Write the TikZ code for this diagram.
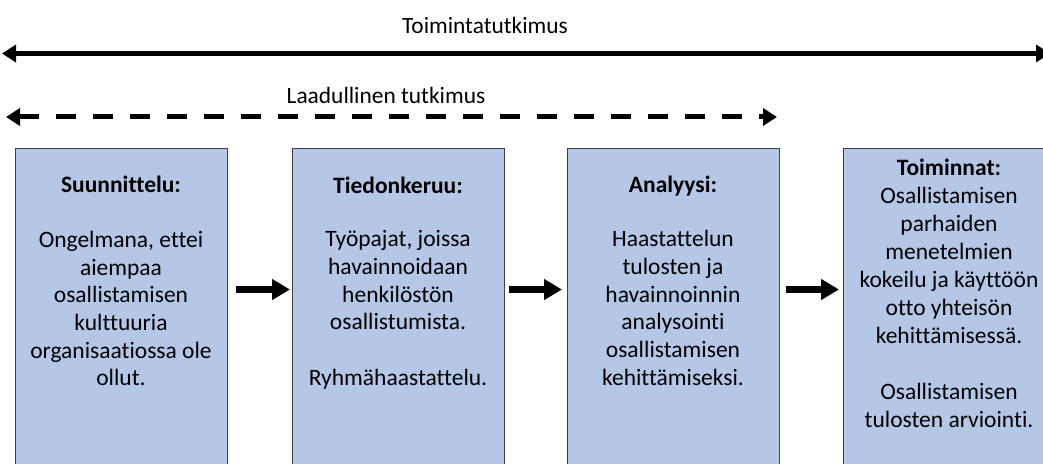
\documentclass[tikz,border=0pt]{standalone}
\usepackage{fontspec}
\setmainfont{Carlito}[Ligatures=NoCommon]
\usepackage{tikz}
\usetikzlibrary{arrows.meta,positioning}

\definecolor{boxblue}{HTML}{B4C7E7}
\definecolor{boxline}{HTML}{404040}

\begin{document}
\begin{tikzpicture}[x=1pt, y=1pt,
  phasebox/.style={rectangle, draw=boxline, fill=boxblue, line width=0.8pt, minimum width=212pt, minimum height=340pt, anchor=north west, inner sep=0pt},
  phasetext/.style={align=center, anchor=north, inner sep=0pt, font=\fontsize{23.5}{27.7}\selectfont},
  spanlabel/.style={inner sep=0pt, font=\fontsize{23.4}{26}\selectfont},
  spanline/.style={line width=5pt, {Triangle[length=14pt,width=17pt]}-{Triangle[length=14pt,width=17pt]}},
  flow/.style={line width=6.5pt, -{Triangle[length=18pt,width=20pt]}}]
\useasboundingbox (0,0) rectangle (1043,463);
\clip (0,0) rectangle (1043,463);
%spans on top
\coordinate (tl) at (2,409.5);
\coordinate (tr) at (1050,409.5);
\draw[spanline] (tl) -- (tr);
\node[spanlabel] at (485,438) (toimlab) {Toimintatutkimus};
\coordinate (ql) at (6,346);
\coordinate (qr) at (777,346);
\draw[spanline, dash pattern=on 20pt off 17pt] (ql) -- (qr);
\node[spanlabel] at (386,368) (laadlab) {Laadullinen tutkimus};
%phase boxes
\node[phasebox] at (15,315) (suun) {};
\node[phasebox] at (292,315) (tied) {};
\node[phasebox] at (567,315) (anal) {};
\node[phasebox] at (843,315) (toim) {};
\node[phasetext] at (121,287) (suuntxt) {\textbf{Suunnittelu:}\\[27pt] Ongelmana, ettei\\ aiempaa\\ osallistamisen\\ kulttuuria\\ organisaatiossa ole\\ ollut.};
\node[phasetext] at (398,286.5) (tiedtxt) {\textbf{Tiedonkeruu:}\\[26pt] Työpajat, joissa\\ havainnoidaan\\ henkilöstön\\ osallistumista.\\[28pt] Ryhmähaastattelu.};
\node[phasetext] at (673,287.5) (analtxt) {\textbf{Analyysi:}\\[27pt] Haastattelun\\ tulosten ja\\ havainnoinnin\\ analysointi\\ osallistamisen\\ kehittämiseksi.};
\node[phasetext, font=\fontsize{23.5}{28}\selectfont] at (949,304.5) (toimtxt) {\textbf{Toiminnat:}\\ Osallistamisen\\ parhaiden\\ menetelmien\\ kokeilu ja käyttöön\\ otto yhteisön\\ kehittämisessä.\\[28pt] Osallistamisen\\ tulosten arviointi.};
%arrows between phases
\draw[flow] ([xshift=8pt]suun.east |- 0,173.5) -- ([xshift=-2pt]tied.west |- 0,173.5);
\draw[flow] ([xshift=4pt]tied.east |- 0,173.5) -- ([xshift=-5pt]anal.west |- 0,173.5);
\draw[flow] ([xshift=6pt]anal.east |- 0,173.5) -- ([xshift=-4pt]toim.west |- 0,173.5);
\end{tikzpicture}
\end{document}
